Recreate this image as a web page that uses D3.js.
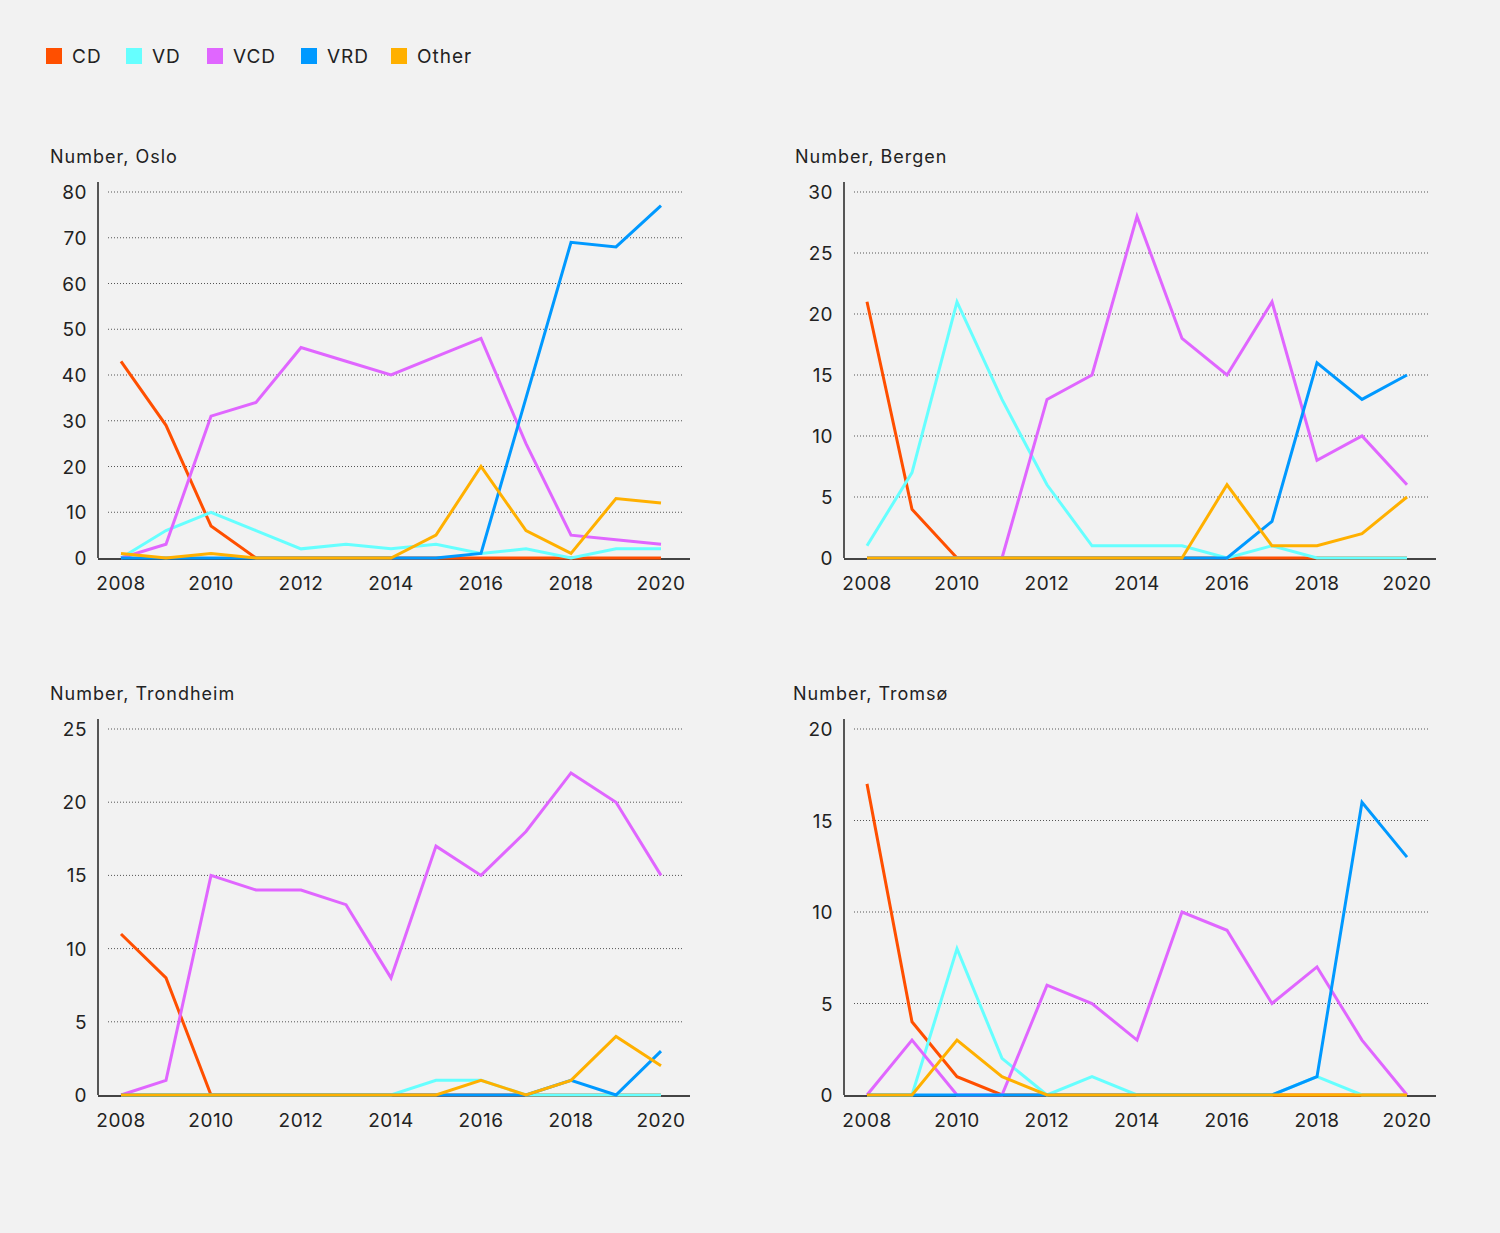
<!DOCTYPE html>
<html>
<head>
<meta charset="utf-8">
<script src="https://cdn.jsdelivr.net/npm/d3@7"></script>
<style>
  body { margin: 0; background: #f2f2f2; }
  svg { display: block; font-family: Inter, "Liberation Sans", sans-serif; }
</style>
</head>
<body>
<div id="chart"></div>
<script>
var years = [2008, 2009, 2010, 2011, 2012, 2013, 2014, 2015, 2016, 2017, 2018, 2019, 2020];
var xTicks = [2008, 2010, 2012, 2014, 2016, 2018, 2020];
var seriesNames = ["CD", "VD", "VCD", "VRD", "Other"];
var colors = {CD: "#ff4f00", VD: "#66ffff", VCD: "#e066ff", VRD: "#0099ff", Other: "#ffb000"};

var osloCD    = [43, 29, 7, 0, 0, 0, 0, 0, 0, 0, 0, 0, 0];
var osloVD    = [0, 6, 10, 6, 2, 3, 2, 3, 1, 2, 0, 2, 2];
var osloVCD   = [0, 3, 31, 34, 46, 43, 40, 44, 48, 25, 5, 4, 3];
var osloVRD   = [0, 0, 0, 0, 0, 0, 0, 0, 1, 35, 69, 68, 77];
var osloOther = [1, 0, 1, 0, 0, 0, 0, 5, 20, 6, 1, 13, 12];

var bergenCD    = [21, 4, 0, 0, 0, 0, 0, 0, 0, 0, 0, 0, 0];
var bergenVD    = [1, 7, 21, 13, 6, 1, 1, 1, 0, 1, 0, 0, 0];
var bergenVCD   = [0, 0, 0, 0, 13, 15, 28, 18, 15, 21, 8, 10, 6];
var bergenVRD   = [0, 0, 0, 0, 0, 0, 0, 0, 0, 3, 16, 13, 15];
var bergenOther = [0, 0, 0, 0, 0, 0, 0, 0, 6, 1, 1, 2, 5];

var trondheimCD    = [11, 8, 0, 0, 0, 0, 0, 0, 0, 0, 0, 0, 0];
var trondheimVD    = [0, 0, 0, 0, 0, 0, 0, 1, 1, 0, 0, 0, 0];
var trondheimVCD   = [0, 1, 15, 14, 14, 13, 8, 17, 15, 18, 22, 20, 15];
var trondheimVRD   = [0, 0, 0, 0, 0, 0, 0, 0, 0, 0, 1, 0, 3];
var trondheimOther = [0, 0, 0, 0, 0, 0, 0, 0, 1, 0, 1, 4, 2];

var tromsoCD    = [17, 4, 1, 0, 0, 0, 0, 0, 0, 0, 0, 0, 0];
var tromsoVD    = [0, 0, 8, 2, 0, 1, 0, 0, 0, 0, 1, 0, 0];
var tromsoVCD   = [0, 3, 0, 0, 6, 5, 3, 10, 9, 5, 7, 3, 0];
var tromsoVRD   = [0, 0, 0, 0, 0, 0, 0, 0, 0, 0, 1, 16, 13];
var tromsoOther = [0, 0, 3, 1, 0, 0, 0, 0, 0, 0, 0, 0, 0];

var panels = [
  {title: "Number, Oslo", titleX: 50, axisX: 98, top: 192, bottom: 558, max: 80, step: 10,
   data: {CD: osloCD, VD: osloVD, VCD: osloVCD, VRD: osloVRD, Other: osloOther}},
  {title: "Number, Bergen", titleX: 795, axisX: 844, top: 192, bottom: 558, max: 30, step: 5,
   data: {CD: bergenCD, VD: bergenVD, VCD: bergenVCD, VRD: bergenVRD, Other: bergenOther}},
  {title: "Number, Trondheim", titleX: 50, axisX: 98, top: 729, bottom: 1095, max: 25, step: 5,
   data: {CD: trondheimCD, VD: trondheimVD, VCD: trondheimVCD, VRD: trondheimVRD, Other: trondheimOther}},
  {title: "Number, Tromsø", titleX: 793, axisX: 844, top: 729, bottom: 1095, max: 20, step: 5,
   data: {CD: tromsoCD, VD: tromsoVD, VCD: tromsoVCD, VRD: tromsoVRD, Other: tromsoOther}}
];

var svg = d3.select("#chart")
  .append("svg")
    .attr("width", 1500)
    .attr("height", 1233);

svg.append("rect").attr("width", 1500).attr("height", 1233).attr("fill", "#f2f2f2");

// legend
var legendX = [46, 126, 207, 301, 391];
var legend = svg.append("g");
seriesNames.forEach(function(name, i) {
  legend.append("rect")
    .attr("x", legendX[i]).attr("y", 48)
    .attr("width", 16).attr("height", 16)
    .attr("fill", colors[name]);
  legend.append("text")
    .attr("x", legendX[i] + 26).attr("y", 63)
    .attr("font-size", 19)
    .attr("letter-spacing", 1)
    .attr("fill", "#222")
    .text(name);
});

panels.forEach(function(p) {
  var g = svg.append("g");

  var x = d3.scaleLinear()
    .domain([2008, 2020])
    .range([p.axisX + 23, p.axisX + 563]);
  var y = d3.scaleLinear()
    .domain([0, p.max])
    .range([p.bottom, p.top]);

  var yTicks = d3.range(0, p.max + 1, p.step);

  // dotted gridlines
  g.selectAll(".grid")
    .data(yTicks.filter(function(d) { return d > 0; }))
    .enter().append("line")
      .attr("x1", p.axisX + 10).attr("x2", p.axisX + 586)
      .attr("y1", function(d) { return y(d); })
      .attr("y2", function(d) { return y(d); })
      .attr("stroke", "#555")
      .attr("stroke-width", 1)
      .attr("stroke-dasharray", "1,2");

  // y tick labels
  g.selectAll(".ylab")
    .data(yTicks)
    .enter().append("text")
      .attr("x", p.axisX - 11)
      .attr("y", function(d) { return y(d) + 7; })
      .attr("text-anchor", "end")
      .attr("font-size", 19)
      .attr("letter-spacing", 0.5)
      .attr("fill", "#222")
      .text(function(d) { return d; });

  // x tick labels
  g.selectAll(".xlab")
    .data(xTicks)
    .enter().append("text")
      .attr("x", function(d) { return x(d); })
      .attr("y", p.bottom + 32)
      .attr("text-anchor", "middle")
      .attr("font-size", 19)
      .attr("letter-spacing", 0.5)
      .attr("fill", "#222")
      .text(function(d) { return d; });

  // title
  g.append("text")
    .attr("x", p.titleX)
    .attr("y", p.top - 29)
    .attr("font-size", 18)
    .attr("letter-spacing", 1)
    .attr("fill", "#222")
    .text(p.title);

  // axes lines (under the series)
  g.append("line")
    .attr("x1", p.axisX).attr("x2", p.axisX)
    .attr("y1", p.top - 10).attr("y2", p.bottom)
    .attr("stroke", "#222").attr("stroke-width", 1.5);
  g.append("line")
    .attr("x1", p.axisX).attr("x2", p.axisX + 592)
    .attr("y1", p.bottom + 1).attr("y2", p.bottom + 1)
    .attr("stroke", "#444").attr("stroke-width", 2);

  // series lines
  seriesNames.forEach(function(name) {
    g.append("path")
      .datum(p.data[name])
      .attr("fill", "none")
      .attr("stroke", colors[name])
      .attr("stroke-width", 3)
      .attr("stroke-linejoin", "miter")
      .attr("d", d3.line()
        .x(function(d, i) { return x(years[i]); })
        .y(function(d) { return y(d); })
      );
  });
});
</script>
</body>
</html>
